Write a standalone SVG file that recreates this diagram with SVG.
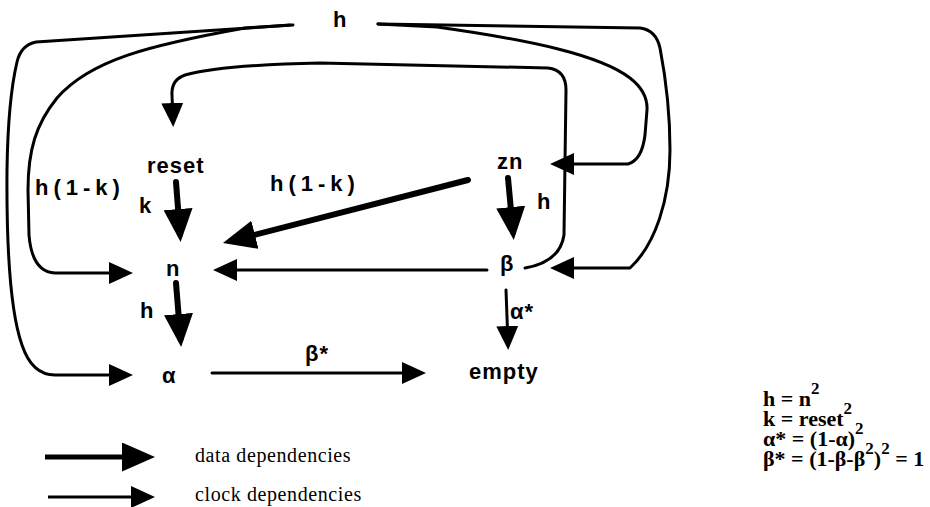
<svg xmlns="http://www.w3.org/2000/svg" width="930" height="507" viewBox="0 0 930 507">
<defs>
<style>
.lbl{font-family:"Liberation Sans",Arial,sans-serif;font-weight:bold;font-size:22px;letter-spacing:1px;fill:#000}
.sp{letter-spacing:5px}
.eq{font-family:"Liberation Serif","Times New Roman",serif;font-weight:bold;font-size:22px;fill:#000}
.sup{font-size:17px}
.leg{font-family:"Liberation Serif","Times New Roman",serif;font-size:20px;letter-spacing:0.6px;fill:#000}
.clk{fill:none;stroke:#000;stroke-width:3;stroke-linecap:round;stroke-linejoin:round;marker-end:url(#ck)}
.dat{fill:none;stroke:#000;stroke-width:6;stroke-linecap:round;marker-end:url(#dt)}
</style>
<marker id="ck" markerUnits="userSpaceOnUse" markerWidth="24" markerHeight="22" viewBox="0 0 24 22" refX="18" refY="11" orient="auto"><path d="M0,0 L24,11 L0,22 Z" fill="#000"/></marker>
<marker id="dt" markerUnits="userSpaceOnUse" markerWidth="33" markerHeight="29" viewBox="0 0 33 29" refX="25" refY="14.5" orient="auto"><path d="M0,0 L33,14.5 L0,29 Z" fill="#000"/></marker>
</defs>
<rect width="930" height="507" fill="#fff"/>

<g id="connectors">
<!-- h -> alpha (outer left) -->
<path class="clk" d="M293,25 L36,42 Q21,45 17,62 Q8,100 7,170 Q6,300 22,345 Q32,375 55,375 L127,375"/>
<!-- h -> n (inner left) -->
<path class="clk" d="M290,25 L245,28 C150,45 90,60 57,98 C36,124 28,150 28,190 L29,235 Q32,272 55,273 L127,273"/>
<!-- h -> beta (outer right) -->
<path class="clk" d="M378,24 L640,28 Q656,30 660,48 Q670,100 670,150 C670,200 655,245 630,268 L556,268"/>
<!-- h -> zn (inner right) -->
<path class="clk" d="M378,24 L437,27 C530,40 600,55 630,78 Q648,92 647,110 L645,135 Q642,160 628,164 L556,164"/>
<!-- beta -> reset -->
<path class="clk" d="M525,268 Q560,262 564,235 L566,90 Q566,70 548,68 L320,63 Q220,65 185,75 Q171,80 172,95 L173,121"/>
<!-- beta -> n -->
<path class="clk" d="M487,270 L219,270"/>
<!-- beta -> empty -->
<path class="clk" d="M506,290 L508,344"/>
<!-- alpha -> empty -->
<path class="clk" d="M212,373 L420,373"/>
<!-- data: reset -> n -->
<path class="dat" d="M176,182 L180,234"/>
<!-- data: n -> alpha -->
<path class="dat" d="M176,283 L180.5,339"/>
<!-- data: zn -> n -->
<path class="dat" d="M468,180 L230.7,241"/>
<!-- data: zn -> beta -->
<path class="dat" d="M508,178 L513,232"/>
<!-- edge labels -->
<text class="lbl sp" x="35" y="195">h(1-k)</text>
<text class="lbl sp" x="270" y="191">h(1-k)</text>
<text class="lbl" x="139" y="213">k</text>
<text class="lbl" x="537" y="209">h</text>
<text class="lbl" x="140" y="318">h</text>
<text class="lbl" x="510" y="319">α*</text>
<text class="lbl" x="305" y="361">β*</text>
</g>

<g id="node-h"><text class="lbl" x="333" y="27">h</text></g>
<g id="node-reset"><text class="lbl" x="147" y="173">reset</text></g>
<g id="node-zn"><text class="lbl" x="497" y="169">zn</text></g>
<g id="node-n"><text class="lbl" x="166" y="276">n</text></g>
<g id="node-beta"><text class="lbl" x="500" y="271">β</text></g>
<g id="node-alpha"><text class="lbl" x="162" y="383">α</text></g>
<g id="node-empty"><text class="lbl" x="469" y="379">empty</text></g>

<g id="legend">
<path d="M45,457 L147,457" fill="none" stroke="#000" stroke-width="5" marker-end="url(#dt)"/>
<path d="M48,497 L149,497" fill="none" stroke="#000" stroke-width="3" marker-end="url(#ck)"/>
<text class="leg" x="195" y="462">data dependencies</text>
<text class="leg" x="195" y="501">clock dependencies</text>
</g>

<g id="equations">
<text class="eq" x="763" y="406">h = n<tspan class="sup" dy="-12">2</tspan></text>
<text class="eq" x="763" y="426">k = reset<tspan class="sup" dy="-12">2</tspan></text>
<text class="eq" x="763" y="446">α* = (1-α)<tspan class="sup" dy="-12">2</tspan></text>
<text class="eq" x="763" y="466">β* = (1-β-β<tspan class="sup" dy="-12">2</tspan><tspan dy="12">)</tspan><tspan class="sup" dy="-12">2</tspan><tspan dy="12"> = 1</tspan></text>
</g>
</svg>
